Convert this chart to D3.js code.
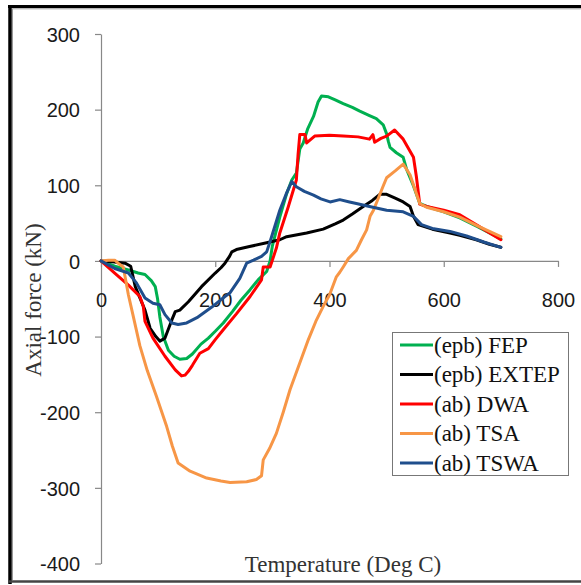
<!DOCTYPE html>
<html>
<head>
<meta charset="utf-8">
<script src="https://cdn.jsdelivr.net/npm/d3@7"></script>
<style>
  html, body { margin: 0; padding: 0; background: #fff; }
  svg { display: block; }
</style>
</head>
<body>
<svg id="chart" width="581" height="585"></svg>
<script>
// Axial force (kN) against temperature (deg C), [temperature, force] pairs
const fep = [[0,0],[24,-7],[48,-12],[65,-16],[77,-18],[88,-26],[95,-34],[99,-50],[103,-74],[109,-100],[118,-118],[128,-126],[138,-130],[150,-129],[160,-123],[175,-110],[188,-102],[200,-93],[214,-82],[230,-67],[245,-52],[261,-38],[275,-25],[290,-14],[296,0],[300,20],[313,58],[325,89],[334,107],[342,116],[348,148],[354,156],[362,175],[372,191],[380,210],[386,218],[398,217],[410,213],[424,208],[440,203],[453,198],[470,192],[482,188],[494,180],[500,168],[503,158],[506,150],[517,143],[529,137],[535,121],[547,99],[558,76],[570,72],[600,65],[628,57],[660,45],[700,29]];
const extep = [[0,0],[20,-1],[42,-3],[52,-7],[60,-34],[77,-65],[86,-89],[96,-100],[103,-106],[112,-102],[124,-78],[130,-67],[138,-65],[153,-54],[176,-34],[200,-16],[210,-9],[217,-3],[225,6],[229,12],[237,15],[260,19],[290,24],[313,28],[325,32],[360,37],[389,42],[410,49],[424,54],[440,62],[459,72],[475,80],[488,88],[500,88],[515,83],[529,78],[541,72],[547,59],[555,48],[580,42],[611,37],[628,34],[657,28],[680,22],[700,18]];
const dwa = [[0,0],[24,-16],[48,-32],[68,-47],[74,-60],[77,-80],[91,-102],[112,-126],[130,-144],[141,-152],[147,-151],[153,-146],[160,-138],[173,-122],[188,-116],[200,-104],[214,-91],[237,-70],[261,-47],[281,-25],[284,-8],[296,-8],[307,17],[313,37],[328,72],[342,107],[345,141],[348,167],[357,167],[360,156],[374,165],[400,166],[424,165],[450,164],[470,161],[476,167],[479,157],[490,162],[500,165],[514,173],[529,161],[547,137],[552,112],[558,75],[570,72],[600,67],[628,61],[663,45],[700,28]];
const tsa = [[0,0],[13,1],[24,1],[30,-3],[39,-8],[48,-45],[57,-75],[68,-112],[81,-145],[97,-179],[115,-219],[125,-245],[135,-267],[156,-278],[185,-287],[210,-291],[226,-293],[255,-292],[272,-289],[281,-284],[284,-263],[295,-248],[307,-228],[319,-200],[331,-170],[347,-137],[363,-104],[376,-80],[389,-60],[400,-45],[412,-21],[418,-15],[424,-8],[433,3],[447,14],[456,28],[465,41],[471,59],[477,67],[494,99],[500,110],[515,119],[529,128],[541,114],[558,76],[570,71],[600,65],[628,58],[660,46],[700,32]];
const tswa = [[0,0],[24,-10],[48,-16],[62,-29],[77,-49],[91,-56],[103,-58],[112,-71],[124,-82],[135,-84],[150,-82],[168,-75],[194,-61],[217,-47],[226,-42],[243,-23],[255,-3],[267,1],[281,6],[290,12],[297,28],[313,67],[325,90],[334,105],[342,98],[356,92],[372,87],[385,82],[401,78],[418,81],[435,78],[447,76],[470,72],[500,67],[529,65],[547,59],[561,48],[580,43],[611,39],[640,33],[670,25],[700,18]];

const seriesNames = ["(epb) FEP", "(epb) EXTEP", "(ab) DWA", "(ab) TSA", "(ab) TSWA"];
const seriesColors = ["#00B050", "#000000", "#FF0000", "#F79646", "#1F4E8C"];
const seriesData = [fep, extep, dwa, tsa, tswa];

const xTicks = [0, 200, 400, 600, 800];
const yTicks = [-400, -300, -200, -100, 0, 100, 200, 300];

const svg = d3.select("#chart");

// outer chart frame
const frame = svg.append("g");
frame.append("line").attr("x1", 10).attr("x2", 10).attr("y1", 5).attr("y2", 584)
  .attr("stroke", "#000").attr("stroke-width", 3.5);
frame.append("line").attr("x1", 12.5).attr("x2", 12.5).attr("y1", 9).attr("y2", 580)
  .attr("stroke", "#999").attr("stroke-width", 1);
frame.append("line").attr("x1", 8).attr("x2", 581).attr("y1", 6.5).attr("y2", 6.5)
  .attr("stroke", "#000").attr("stroke-width", 3);
frame.append("line").attr("x1", 12).attr("x2", 581).attr("y1", 8.8).attr("y2", 8.8)
  .attr("stroke", "#999").attr("stroke-width", 1);
frame.append("line").attr("x1", 8).attr("x2", 581).attr("y1", 581.5).attr("y2", 581.5)
  .attr("stroke", "#444").attr("stroke-width", 2.5);

const x = d3.scaleLinear().domain([0, 800]).range([101, 558]);
const y = d3.scaleLinear().domain([-400, 300]).range([563.5, 34]);

// y axis
const yAxis = svg.append("g")
  .attr("transform", `translate(${x(0)},0)`)
  .call(d3.axisLeft(y).tickValues(yTicks).tickSize(6).tickSizeOuter(0).tickPadding(15)
    .tickFormat(d => d3.format("d")(d).replace("−", "-")));

// x axis along zero force
const xAxis = svg.append("g")
  .attr("transform", `translate(0,${y(0)})`)
  .call(d3.axisBottom(x).tickValues(xTicks).tickSize(6).tickSizeOuter(0).tickPadding(26));

[yAxis, xAxis].forEach(g => {
  g.select(".domain").attr("stroke", "#888").attr("stroke-width", 1.2);
  g.selectAll(".tick line").attr("stroke", "#888").attr("stroke-width", 1.2);
  g.selectAll(".tick text")
    .attr("fill", "#1a1a1a")
    .style("font-family", "'Liberation Sans', Arial, sans-serif")
    .style("font-size", "20px");
});
yAxis.selectAll(".tick text").attr("dy", "0.36em");

// series lines
const line = d3.line().x(d => x(d[0])).y(d => y(d[1]));
svg.append("g").selectAll("path")
  .data(seriesData)
  .join("path")
  .attr("d", line)
  .attr("fill", "none")
  .attr("stroke", (d, i) => seriesColors[i])
  .attr("stroke-width", 3)
  .attr("stroke-linejoin", "round")
  .attr("stroke-linecap", "round");

// axis titles
const serif = "'Liberation Serif', 'Times New Roman', serif";
svg.append("text")
  .attr("transform", "translate(41,300) rotate(-90)")
  .attr("text-anchor", "middle")
  .attr("fill", "#333")
  .style("font-family", serif)
  .style("font-size", "23px")
  .text("Axial force (kN)");

svg.append("text")
  .attr("x", 343).attr("y", 572)
  .attr("text-anchor", "middle")
  .attr("fill", "#333")
  .style("font-family", serif)
  .style("font-size", "23px")
  .text("Temperature (Deg C)");

// legend
const legend = svg.append("g");
legend.append("rect")
  .attr("x", 392.5).attr("y", 332.5).attr("width", 176).attr("height", 143)
  .attr("fill", "#fff").attr("stroke", "#777").attr("stroke-width", 1);
const rows = legend.selectAll("g.row")
  .data(seriesNames)
  .join("g")
  .attr("class", "row")
  .attr("transform", (d, i) => `translate(0,${345 + i * 29.5})`);
rows.append("line")
  .attr("x1", 400).attr("x2", 433).attr("y1", 0).attr("y2", 0)
  .attr("stroke", (d, i) => seriesColors[i])
  .attr("stroke-width", 3);
rows.append("text")
  .attr("x", 434).attr("y", 7.5)
  .attr("fill", "#111")
  .style("font-family", serif)
  .style("font-size", "23px")
  .text(d => d);
</script>
</body>
</html>
